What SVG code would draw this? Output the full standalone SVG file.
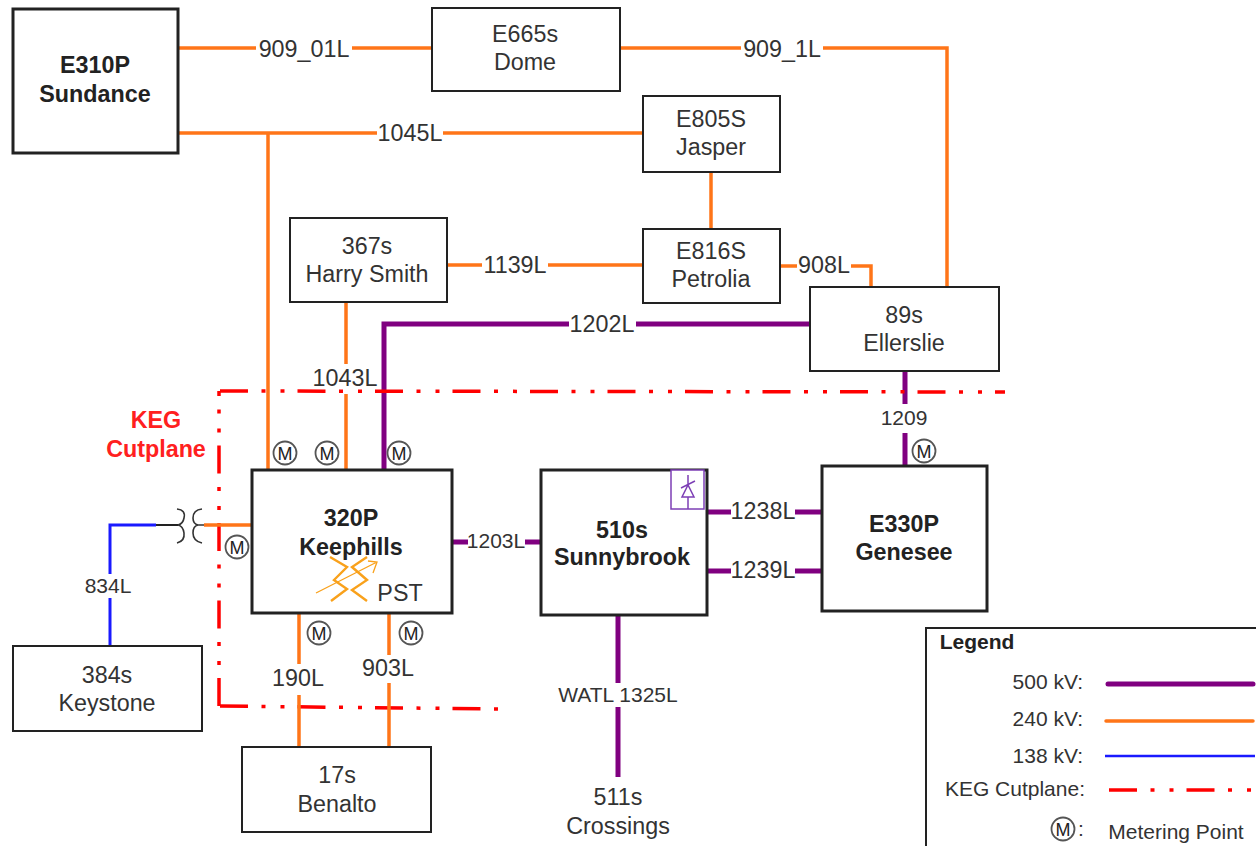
<svg xmlns="http://www.w3.org/2000/svg" width="1256" height="846" viewBox="0 0 1256 846">
<style>
text{font-family:"Liberation Sans",Arial,sans-serif;fill:#333;font-size:23.3px;text-anchor:middle}
.b{font-weight:bold;fill:#222}
.s{font-size:21px}
.lg{font-size:21px}
.e{text-anchor:end}
.k{fill:#ff2020}
.n{fill:#fff;stroke:#222;stroke-width:2}
.t{fill:#fff;stroke:#222;stroke-width:3}
.w{fill:none;stroke:#ff7518;stroke-width:3.5}
.p{fill:none;stroke:#800080;stroke-width:5}
.c{fill:none;stroke:#1a1aff;stroke-width:3}
.r{fill:none;stroke:#ff0000;stroke-width:3.5;stroke-dasharray:28 13.5 4 15 4 13}
.m circle{fill:#fff;stroke:#555;stroke-width:1.8}
.m text{font-size:18px;fill:#222}
</style>
<defs>
<g id="meter" class="m"><circle r="11.5"/><text y="6.5">M</text></g>
</defs>
<g id="connectors">
<path class="p" d="M810,324H636M569,324H384V470M905,371V404M905,433V466M452,542H468M525,542H541M707,512H731M795,512H822M707,571H731M795,571H822M618,615V683M618,707V777"/>
<path class="r" stroke-dashoffset="23" d="M219,391V706"/>
<path class="r" d="M220,706L500,709"/>
<path class="r" d="M220,391L1005,392"/>
<path class="w" d="M178,48H256M352,48H432M620,48H741M823,48H947V287M178,133H377M443,133H643M268,133V470M711,172V229M447,265H482M548,265H643M780,266H797M851,266H871V287M346,302V364M346,394V470M204,525H252M299,613V664M299,695V747M389,613V655M389,683V747"/>
<path class="c" d="M156,525H110V574M110,598V646"/>
<path d="M156,525H178" fill="none" stroke="#222" stroke-width="2"/>
</g>
<g id="transformer" fill="none" stroke="#333" stroke-width="1.6">
<path d="M177,509Q186,510 184,518Q183,524 178,525Q183,526 184,533Q185,541 177,543"/>
<path d="M202,509Q193,510 193,518Q193,524 198,525Q193,526 193,533Q193,541 202,543M198,525H204"/>
</g>
<g id="line-labels">
<text x="304" y="57">909_01L</text>
<text x="782" y="57">909_1L</text>
<text x="410" y="141">1045L</text>
<text x="515" y="273">1139L</text>
<text x="824" y="273">908L</text>
<text x="602" y="332">1202L</text>
<text x="345" y="386">1043L</text>
<text x="904" y="425" class="s">1209</text>
<text x="108" y="593" class="s">834L</text>
<text x="298" y="686">190L</text>
<text x="388" y="676">903L</text>
<text x="496" y="548" class="s">1203L</text>
<text x="763" y="519">1238L</text>
<text x="763" y="578">1239L</text>
<text x="618" y="702" class="s">WATL 1325L</text>
</g>
<g id="sundance"><rect class="t" x="13" y="9" width="165" height="144"/><text class="b" x="95" y="73">E310P</text><text class="b" x="95" y="102">Sundance</text></g>
<g id="dome"><rect class="n" x="432" y="8" width="188" height="83"/><text x="525" y="42">E665s</text><text x="525" y="70">Dome</text></g>
<g id="jasper"><rect class="n" x="643" y="96" width="137" height="76"/><text x="711" y="127">E805S</text><text x="711" y="155">Jasper</text></g>
<g id="petrolia"><rect class="n" x="643" y="229" width="137" height="74"/><text x="711" y="259">E816S</text><text x="711" y="287">Petrolia</text></g>
<g id="harry-smith"><rect class="n" x="290" y="218" width="157" height="84"/><text x="367" y="254">367s</text><text x="367" y="282">Harry Smith</text></g>
<g id="ellerslie"><rect class="n" x="810" y="287" width="189" height="84"/><text x="904" y="323">89s</text><text x="904" y="351">Ellerslie</text></g>
<g id="keephills"><rect class="t" x="252" y="470" width="200" height="143"/><text class="b" x="351" y="526">320P</text><text class="b" x="351" y="555">Keephills</text>
<path d="M330,557L347,567L334,580L347,589L331,601M367,557L352,567L367,580L352,590L367,601" fill="none" stroke="#f9a11b" stroke-width="2.4"/>
<path d="M316,593L377,562M368,561L377,562L373,573" fill="none" stroke="#f9a11b" stroke-width="1.3"/>
<text x="400" y="601">PST</text></g>
<g id="sunnybrook"><rect class="t" x="541" y="470" width="166" height="145"/><text class="b" x="622" y="538">510s</text><text class="b" x="622" y="565">Sunnybrook</text>
<rect x="671" y="470" width="33" height="39" fill="#fff" stroke="#7d3fb5" stroke-width="1.5"/>
<path d="M688,475V485M688,497V509M682,497H694L688,485ZM681,488L695,481" fill="none" stroke="#7d3fb5" stroke-width="1.5"/></g>
<g id="genesee"><rect class="t" x="822" y="466" width="165" height="145"/><text class="b" x="904" y="532">E330P</text><text class="b" x="904" y="560">Genesee</text></g>
<g id="keystone"><rect class="n" x="13" y="646" width="189" height="85"/><text x="107" y="683">384s</text><text x="107" y="711">Keystone</text></g>
<g id="benalto"><rect class="n" x="242" y="747" width="189" height="85"/><text x="337" y="783">17s</text><text x="337" y="812">Benalto</text></g>
<g id="crossings"><text x="618" y="805">511s</text><text x="618" y="834">Crossings</text></g>
<g id="meters">
<use href="#meter" x="285" y="453"/><use href="#meter" x="327" y="453"/><use href="#meter" x="399" y="453"/><use href="#meter" x="237" y="547"/><use href="#meter" x="319" y="633"/><use href="#meter" x="411" y="633"/><use href="#meter" x="924" y="451"/>
</g>
<g id="keg-label"><text x="156" y="428" class="b k">KEG</text><text x="156" y="457" class="b k">Cutplane</text></g>
<g id="legend">
<rect x="926" y="628" width="340" height="230" fill="#fff" stroke="#222" stroke-width="2"/>
<text x="977" y="649" class="b lg">Legend</text>
<text x="1083" y="689" class="lg e">500 kV:</text>
<text x="1083" y="726" class="lg e">240 kV:</text>
<text x="1083" y="763" class="lg e">138 kV:</text>
<text x="1085" y="796" class="lg e">KEG Cutplane:</text>
<text x="1176" y="839" class="lg">Metering Point</text>
<text x="1081" y="836" class="lg">:</text>
<path class="p" d="M1108,684H1253" stroke-linecap="round"/>
<path class="w" d="M1106,721H1253" stroke-linecap="round"/>
<path class="c" d="M1105,756H1255" style="stroke-width:2.4"/>
<path class="r" d="M1109,790H1254"/>
<use href="#meter" x="1063" y="829"/>
</g>
</svg>
